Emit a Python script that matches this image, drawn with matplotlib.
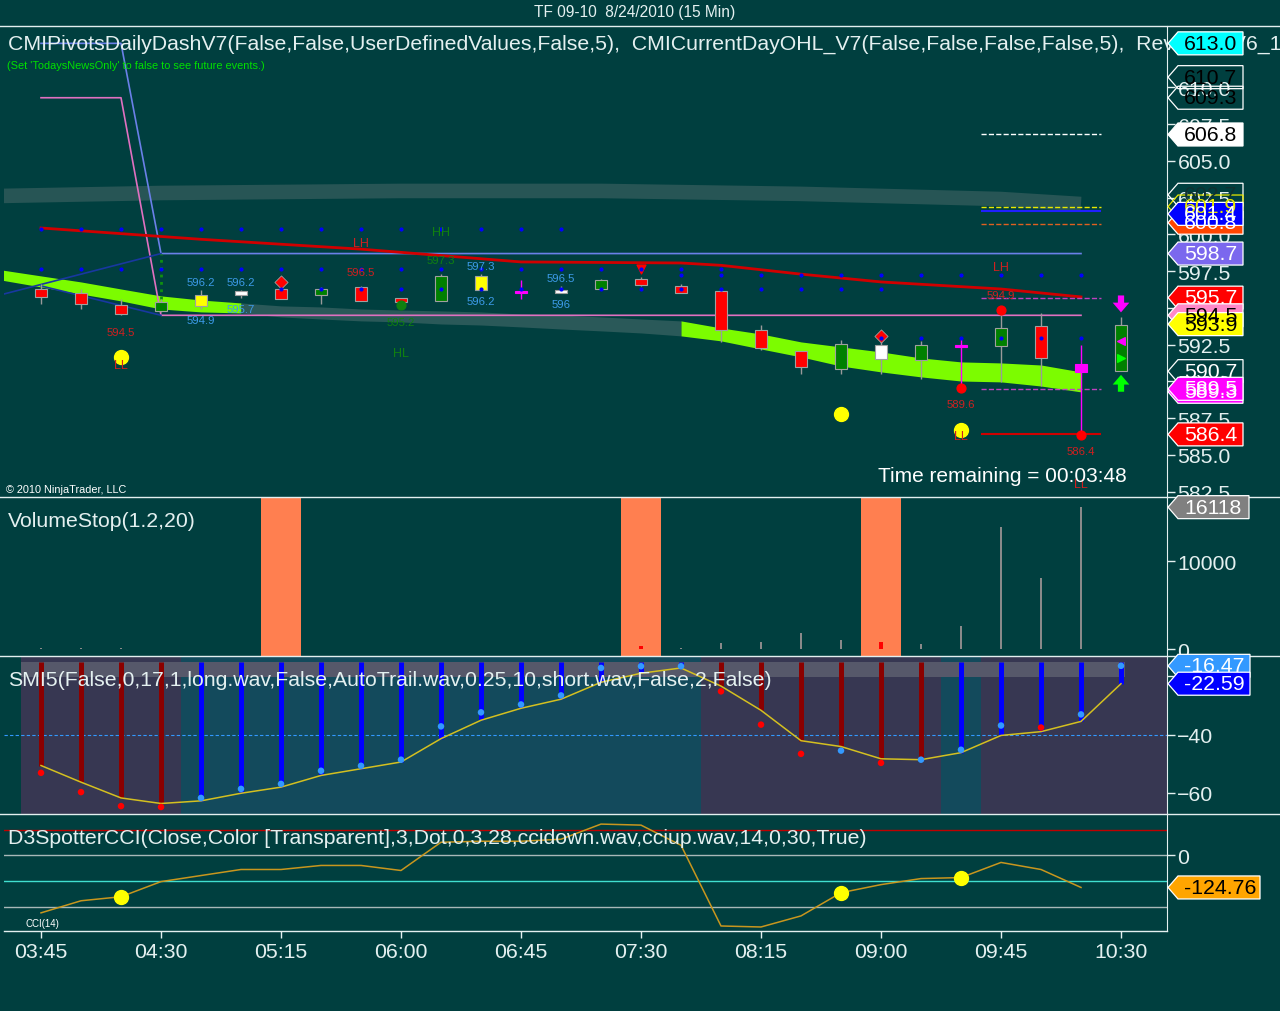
import matplotlib
matplotlib.use("Agg")
import matplotlib.pyplot as plt
import numpy as np
from matplotlib.patches import Polygon
from matplotlib.lines import Line2D
from matplotlib.transforms import IdentityTransform

plt.rcParams['font.family'] = ['Liberation Sans', 'DejaVu Sans']

BG = '#003f3f'
FG = '#e4f0f0'
W, H = 1280, 1012
BIG = 15.3

# ---------------- data ----------------
time_labels = ['03:45', '04:30', '05:15', '06:00', '06:45', '07:30', '08:15', '09:00', '09:45', '10:30']
time_bars = [0, 3, 6, 9, 12, 15, 18, 21, 24, 27]

# 15 min candles, bar 0 = 03:45
opens = [596.3, 596.0, 595.2, 594.8, 595.1, 595.9, 596.3, 595.85, 596.4, 595.7, 595.5, 596.2, 596.1, 596.0,
         596.3, 596.95, 596.5, 596.15, 593.5, 592.05, 590.85, 591.5, 591.45, 592.4, 592.4, 593.8, 591.2, 590.7]
highs = [596.6, 596.3, 595.6, 595.6, 596.2, 596.2, 596.6, 596.4, 596.5, 595.7, 597.3, 597.3, 596.9, 596.5,
         597.0, 597.1, 596.6, 596.2, 593.85, 592.1, 592.8, 592.9, 592.75, 592.9, 594.9, 594.65, 592.5, 594.4]
lows = [595.3, 594.9, 594.5, 594.7, 594.9, 595.7, 595.6, 595.3, 595.5, 595.2, 595.5, 596.2, 595.6, 596.0,
        596.2, 596.5, 596.0, 592.7, 592.15, 590.5, 590.5, 590.5, 590.15, 589.6, 589.95, 589.7, 586.4, 590.7]
closes = [595.75, 595.3, 594.6, 595.4, 595.9, 596.15, 595.6, 596.3, 595.5, 595.4, 597.2, 597.2, 596.1, 596.2,
          596.9, 596.55, 596.05, 593.5, 592.3, 591.0, 592.55, 592.5, 592.5, 592.4, 593.65, 591.6, 590.65, 593.85]
bar_colors = ['red', 'red', 'red', 'green', 'yellow', 'white', 'red', 'green', 'red', 'red', 'green', 'yellow',
              'magenta', 'white', 'green', 'red', 'red', 'red', 'red', 'red', 'green', 'white', 'green',
              'magenta', 'green', 'red', 'magenta', 'green']

# trend band (bar -1 .. 26)
band_top = [597.59, 597.18, 596.77, 596.29, 595.82, 595.54, 595.34, 595.14, 595.07, 594.93, 594.86, 594.80,
            594.73, 594.59, 594.52, 594.39, 594.25, 594.12, 593.64, 593.23, 592.69, 592.35, 592.01, 591.60,
            591.33, 591.26, 591.12, 590.65]
band_bot = [596.90, 596.43, 595.95, 595.48, 594.93, 594.73, 594.66, 594.39, 594.25, 594.12, 594.05, 593.91,
            593.84, 593.71, 593.57, 593.44, 593.30, 593.10, 592.76, 592.21, 591.67, 591.05, 590.65, 590.31,
            590.03, 589.97, 589.69, 589.29]

# wide grey line near the top
wide_x = [-1, 3, 9, 14, 19, 24, 26]
wide_y = [602.62, 602.82, 602.96, 602.96, 602.76, 602.41, 602.07]

# red moving line
red_x = [0, 4, 8, 12, 16, 17, 19, 21, 24, 26]
red_y = [600.44, 599.67, 599.0, 598.13, 598.06, 597.9, 597.3, 596.77, 596.29, 595.75]

# pivot step lines
pink_x = [0, 2, 3, 26]
pink_y = [609.3, 609.3, 594.5, 594.5]
blue_x = [0, 2, 3, 26]
blue_y = [613.0, 613.0, 598.7, 598.7]
navy1_x, navy1_y = [-0.925, 3], [595.95, 598.7]
navy2_x, navy2_y = [0, 3], [596.5, 594.5]

# pivot dots rows
dot_levels = [600.37, 597.65, 597.24, 596.29, 592.96]
dot_first = [0, 0, 16, 6, 21]
dot_last = [13, 17, 26, 21, 26]

# short levels on the right
right_levels = [606.8, 601.9, 601.6, 600.7, 595.7, 589.5, 586.4]
right_colors = ['white', '#e8e800', '#2020ff', '#e06020', '#c040c0', '#c040c0', '#d00000']
right_styles = ['--', '--', '-', '--', '--', '--', '-']

# swing value labels (bar, value, colour, above?)
value_labels = [(4, 596.2, '#3d9be9', True), (4, 594.9, '#3d9be9', False), (5, 596.2, '#3d9be9', True),
                (5, 595.7, '#3d9be9', False), (11, 597.3, '#3d9be9', True), (11, 596.2, '#3d9be9', False),
                (13, 596.5, '#3d9be9', True), (13, 596.0, '#3d9be9', False),
                (2, 594.5, '#d02020', False), (8, 596.5, '#d02020', True), (23, 589.6, '#d02020', False),
                (24, 594.9, '#d02020', True), (26, 586.4, '#d02020', False),
                (10, 597.3, '#108010', True), (9, 595.2, '#108010', False)]
swing_text = [(8, 599.42, 'LH', '#d02020'), (10, 600.17, 'HH', '#108010'), (9, 591.94, 'HL', '#108010'),
              (2, 591.1, 'LL', '#d02020'), (24, 597.79, 'LH', '#d02020'), (23, 586.3, 'LL', '#d02020'),
              (26, 583.0, 'LL', '#d02020')]
yellow_dot_bars = [2, 20, 23]
yellow_dot_vals = [591.67, 587.79, 586.70]
red_dot_bars = [23, 24, 26]
red_dot_vals = [589.56, 594.86, 586.36]

# flags on the price scale
price_flag_vals = [613.0, 609.3, 610.7, 606.8, 602.7, 601.9, 600.8, 601.4, 598.7, 595.7, 594.5, 593.9,
                   590.7, 589.3, 589.5, 586.4]
price_flag_fc = ['#00ffff', 'none', 'none', 'white', 'none', 'none', '#ff4500', '#0000ff', '#7b68ee',
                 '#ff0000', '#ff88c8', '#ffff00', 'none', '#ff00ff', '#ff00ff', '#ff0000']
price_flag_tc = ['black', 'black', 'black', 'black', '#103030', '#e8e800', 'white', 'white', 'white',
                 'white', 'black', 'black', 'white', 'white', 'white', 'white']

# volume
volume = [60, 60, 150, 40, 40, 40, 0, 0, 0, 0, 40, 0, 0, 0, 40, 300, 80, 690, 800, 1840, 1000, 770, 540,
          2640, 13900, 8080, 16118]
stop_bars = [6, 15, 21]

# SMI
smi_signal = [-50.6, -56.3, -61.7, -63.6, -62.7, -60.1, -58.0, -54.0, -51.7, -49.4, -41.4, -35.1, -31.0,
              -27.9, -22.1, -19.0, -17.2, -23.4, -31.7, -42.1, -44.1, -48.3, -48.6, -46.2, -40.3, -39.0,
              -35.5, -22.59]
smi_value = [-53.1, -59.7, -64.5, -64.8, -61.7, -58.6, -56.9, -52.4, -50.7, -48.6, -37.2, -32.4, -29.7,
             -26.6, -17.2, -16.6, -16.6, -25.2, -36.6, -46.6, -45.5, -49.7, -48.6, -45.2, -36.9, -37.6,
             -33.1, -16.47]
smi_up = [0, 0, 0, 0, 1, 1, 1, 1, 1, 1, 1, 1, 1, 1, 1, 1, 1, 0, 0, 0, 0, 0, 0, 1, 1, 1, 1, 1]
smi_dot_up = [0, 0, 0, 0, 1, 1, 1, 1, 1, 1, 1, 1, 1, 1, 1, 1, 1, 0, 0, 0, 1, 0, 1, 1, 1, 0, 1, 1]
smi_zones = [(-0.5, 3.5, 'p'), (3.5, 16.5, 't'), (16.5, 22.5, 'p'), (22.5, 23.5, 't'), (23.5, 28.2, 'p')]

# CCI
cci = [-223.5, -176.5, -160.8, -102.0, -78.4, -54.9, -54.9, -39.2, -39.2, -58.8, 51.0, 54.9, 54.9, 62.7,
       121.6, 117.6, 39.2, -274.5, -278.4, -235.3, -145.1, -113.7, -90.2, -86.3, -27.5, -54.9, -124.76]
cci_dot_bars = [2, 20, 23]

# ---------------- figure ----------------
fig = plt.figure(figsize=(12.8, 10.12), dpi=100)
fig.patch.set_facecolor(BG)


def make_ax(top, bottom):
    ax = fig.add_axes([4 / W, (H - bottom) / H, 1163 / W, (bottom - top) / H])
    ax.set_facecolor(BG)
    ax.set_xlim(-0.925, 28.15)
    for s in ['left', 'top', 'bottom']:
        ax.spines[s].set_visible(False)
    ax.spines['right'].set_color(FG)
    ax.yaxis.tick_right()
    ax.tick_params(axis='y', colors=FG, labelsize=BIG, length=6, width=1, pad=1.5)
    ax.tick_params(axis='x', bottom=False, labelbottom=False)
    return ax


ax_p = make_ax(27, 498)
ax_v = make_ax(498, 657)
ax_s = make_ax(657, 815)
ax_c = make_ax(815, 932)

# ---- price panel ----
ax_p.set_ylim(582.14, 614.18)
ax_p.set_yticks([610.0, 607.5, 605.0, 602.5, 600.0, 597.5, 595.0, 592.5, 590.0, 587.5, 585.0, 582.5])
ax_p.yaxis.set_major_formatter(matplotlib.ticker.FormatStrFormatter('%.1f'))

ax_p.plot(wide_x, wide_y, color='#275555', lw=10.5, solid_capstyle='butt', zorder=1)

bx = np.arange(-1, 27)
bt = np.array(band_top)
bb = np.array(band_bot)
ax_p.fill_between(bx[0:7], bt[0:7], bb[0:7], color='#7cfc00', lw=0, zorder=2)
ax_p.fill_between(bx[6:18], bt[6:18], bb[6:18], color='#2a5959', lw=0, zorder=2)
ax_p.fill_between(bx[17:], bt[17:], bb[17:], color='#7cfc00', lw=0, zorder=2)

ax_p.plot(pink_x, pink_y, color='#e070c0', lw=1.2, zorder=3)
ax_p.plot(blue_x, blue_y, color='#6a80e8', lw=1.2, zorder=3)
ax_p.plot(navy1_x, navy1_y, color='#1838a0', lw=1.2, zorder=3)
ax_p.plot(navy2_x, navy2_y, color='#1838a0', lw=1.2, zorder=3)
ax_p.vlines(3, 595.6, 598.7, colors='#109010', lw=2, linestyles=':', zorder=3)
ax_p.plot(red_x, red_y, color='#d00000', lw=2, zorder=3)

for lev, col, ls in zip(right_levels, right_colors, right_styles):
    ax_p.hlines(lev, 23.5, 26.5, colors=col, linestyles=ls, lw=1.5 if ls == '-' else 1, zorder=3)

for lev, b0, b1 in zip(dot_levels, dot_first, dot_last):
    xs = np.arange(b0, b1 + 1)
    ax_p.scatter(xs, np.full(len(xs), lev), s=9, color='#0000ff', zorder=7, lw=0)

# candles
o = np.array(opens)
c = np.array(closes)
xc = np.arange(len(opens))
cmap = {'red': '#ff0000', 'green': '#008000', 'yellow': '#ffff00', 'white': '#ffffff', 'magenta': '#ff00ff'}
fcol = [cmap[k] for k in bar_colors]
wick = ['#ff00ff' if k == 'magenta' else '#9a9a9a' for k in bar_colors]
edge = ['#ff00ff' if k == 'magenta' else '#a0a0a0' for k in bar_colors]
body_h = np.maximum(np.abs(c - o), 0.17)
body_lo = np.where(np.abs(c - o) < 0.17, (o + c) / 2 - 0.085, np.minimum(o, c))
ax_p.vlines(xc, lows, highs, colors=wick, lw=1, zorder=4)
ax_p.bar(xc, body_h, bottom=body_lo, width=0.32, color=fcol, edgecolor=edge, lw=0.8, zorder=5)

# markers
ax_p.scatter([6, 21], [596.75, 593.1], marker='D', s=45, color='#ff0000', edgecolor='#a0a0a0', lw=0.6, zorder=6)
ax_p.scatter([15], [597.65], marker='v', s=40, color='#ff0000', zorder=6)
ax_p.scatter(red_dot_bars, red_dot_vals, s=40, color='#ff0000', zorder=6)
ax_p.scatter([9], [595.2], s=40, color='#108010', zorder=6)
ax_p.scatter(yellow_dot_bars, yellow_dot_vals, s=100, color='#ffff00', zorder=6)
ax_p.scatter([27], [592.76], marker='<', s=30, color='#ff00ff', zorder=7)
ax_p.scatter([27], [591.6], marker='>', s=30, color='#00ff00', zorder=7)
ax_p.annotate('', xy=(27, 594.7), xytext=(27, 595.85),
              arrowprops=dict(arrowstyle='simple,head_width=1.2,head_length=0.7,tail_width=0.45',
                              color='#ff00ff', lw=0, shrinkA=0, shrinkB=0), zorder=7)
ax_p.annotate('', xy=(27, 590.45), xytext=(27, 589.3),
              arrowprops=dict(arrowstyle='simple,head_width=1.2,head_length=0.7,tail_width=0.45',
                              color='#00ff00', lw=0, shrinkA=0, shrinkB=0), zorder=7)

for b, v, col, above in value_labels:
    off = 14 if col != '#3d9be9' else 8
    dy = off if above else -(off + 3)
    txt = '596' if v == 596.0 else '%.1f' % v
    ax_p.annotate(txt, (b, v), xytext=(0, dy), textcoords='offset pixels', ha='center', va='center',
                  fontsize=8.2, color=col, zorder=8)
for b, v, s, col in swing_text:
    ax_p.text(b, v, s, ha='center', va='center', fontsize=9, color=col, zorder=8)

ax_p.text((1127 - 4) / 1163, (498 - 477) / 471, 'Time remaining = 00:03:48', transform=ax_p.transAxes,
          ha='right', va='center', fontsize=15, color='white', zorder=9)
ax_p.text(2 / 1163, (498 - 490) / 471, '\u00a9 2010 NinjaTrader, LLC', transform=ax_p.transAxes,
          ha='left', va='center', fontsize=7.8, color='white', zorder=9)

# ---- volume panel ----
ax_v.set_ylim(-795, 17273)
ax_v.set_yticks([0, 10000])
for b in stop_bars:
    ax_v.axvspan(b - 0.5, b + 0.5, color='#ff7f50', lw=0, zorder=1)
xv = np.arange(len(volume))
vcol = ['#ff0000' if b in stop_bars else '#8a8a8a' for b in xv]
vwid = [0.12 if b in stop_bars else 0.055 for b in xv]
ax_v.bar(xv, volume, width=vwid, color=vcol, lw=0, zorder=2)

# ---- SMI panel ----
ax_s.set_ylim(-67.2, -13.1)
ax_s.set_yticks([-20, -40, -60])
for a, b, k in smi_zones:
    ax_s.axvspan(a, b, color='#373752' if k == 'p' else '#134a5c', lw=0, zorder=0)
ax_s.fill_between([-0.5, 27.1], -20.3, -15.2, color='#56586a', lw=0, zorder=1)
ax_s.axhline(-40, color='#3399ff', lw=0.8, ls=(0, (3, 2)), zorder=2)
xs = np.arange(len(smi_signal))
ax_s.vlines(xs, smi_signal, -15.2, colors=['#0000ff' if u else '#8b0000' for u in smi_up], lw=3.6, zorder=3)
ax_s.plot(xs, smi_signal, color='#d4c020', lw=1.1, zorder=4)
ax_s.scatter(xs, smi_value, s=22, color=['#3399ff' if u else '#ff0000' for u in smi_dot_up], lw=0, zorder=5)

# ---- CCI panel ----
ax_c.set_ylim(-294, 160.8)
ax_c.set_yticks([0])
ax_c.axhline(100, color='#c00000', lw=1, zorder=1)
ax_c.axhline(0, color='#a8b8b8', lw=1, zorder=1)
ax_c.axhline(-100, color='#40e0d0', lw=1, zorder=1)
ax_c.axhline(-200, color='#a8b8b8', lw=1, zorder=1)
xcc = np.arange(len(cci))
ax_c.plot(xcc, cci, color='#c8961e', lw=1.1, zorder=2)
ax_c.scatter(cci_dot_bars, [cci[b] for b in cci_dot_bars], s=100, color='#ffff00', zorder=3)
ax_c.text((26 - 4) / 1163, (932 - 924) / 117, 'CCI(14)', transform=ax_c.transAxes, fontsize=7,
          color='white', ha='left', va='center')

ax_c.set_xticks(time_bars)
ax_c.set_xticklabels(time_labels)
ax_c.tick_params(axis='x', bottom=True, labelbottom=True, colors=FG, labelsize=BIG, length=5, width=1, pad=3)

# ---- separators ----
for y in [27, 498, 657, 815]:
    fig.add_artist(Line2D([0, W], [H - y, H - y], transform=IdentityTransform(), color=FG, lw=1, zorder=4))
fig.add_artist(Line2D([4, 1167], [H - 932, H - 932], transform=IdentityTransform(), color=FG, lw=1, zorder=4))

# ---- panel titles ----
fig.text(W / 2 - 5, H - 13, 'TF 09-10  8/24/2010 (15 Min)', transform=IdentityTransform(), ha='center',
         va='center', fontsize=11.2, color=FG)
fig.text(8, H - 44, 'CMIPivotsDailyDashV7(False,False,UserDefinedValues,False,5),  '
         'CMICurrentDayOHL_V7(False,False,False,False,5),  RevPivotsV6_1t', transform=IdentityTransform(),
         ha='left', va='center', fontsize=BIG, color=FG, zorder=5)
fig.text(7, H - 66, "(Set 'TodaysNewsOnly' to false to see future events.)", transform=IdentityTransform(),
         ha='left', va='center', fontsize=7.9, color='#00e000', zorder=5)
fig.text(8, H - 522, 'VolumeStop(1.2,20)', transform=IdentityTransform(), ha='left', va='center',
         fontsize=BIG, color=FG, zorder=5)
fig.text(8, H - 681, 'SMI5(False,0,17,1,long.wav,False,AutoTrail.wav,0.25,10,short.wav,False,2,False)',
         transform=IdentityTransform(), ha='left', va='center', fontsize=BIG, color=FG, zorder=5)
fig.text(8, H - 839, 'D3SpotterCCI(Close,Color [Transparent],3,Dot,0,3,28,ccidown.wav,cciup.wav,14,0,30,True)',
         transform=IdentityTransform(), ha='left', va='center', fontsize=BIG, color=FG, zorder=5)


# ---- value flags on the scales ----
def flag(ax, val, txt, fc, tc, ec='white', width=76):
    x0 = ax.transAxes.transform((1, 0))[0]
    y0 = ax.transData.transform((0, val))[1]
    h = 11.5
    verts = [(x0 + 1, y0), (x0 + 11, y0 + h), (x0 + width, y0 + h), (x0 + width, y0 - h), (x0 + 11, y0 - h)]
    fig.add_artist(Polygon(verts, closed=True, facecolor=fc, edgecolor=ec, lw=0.9,
                           transform=IdentityTransform(), zorder=10))
    fig.text(x0 + 17, y0, txt, transform=IdentityTransform(), ha='left', va='center', fontsize=BIG,
             color=tc, zorder=11)


for v, fc, tc in zip(price_flag_vals, price_flag_fc, price_flag_tc):
    ec = '#e8e800' if tc == '#e8e800' else 'white'
    flag(ax_p, v, '%.1f' % v, fc, tc, ec)
flag(ax_v, volume[-1], '%d' % volume[-1], '#808080', 'white', width=82)
flag(ax_s, smi_value[-1], '%.2f' % smi_value[-1], '#3399ff', 'white', width=83)
flag(ax_s, smi_signal[-1], '%.2f' % smi_signal[-1], '#0000ff', 'white', width=83)
flag(ax_c, cci[-1], '%.2f' % cci[-1], '#ffa500', 'black', width=93)

fig.savefig('out.png', dpi=100, facecolor=BG)
